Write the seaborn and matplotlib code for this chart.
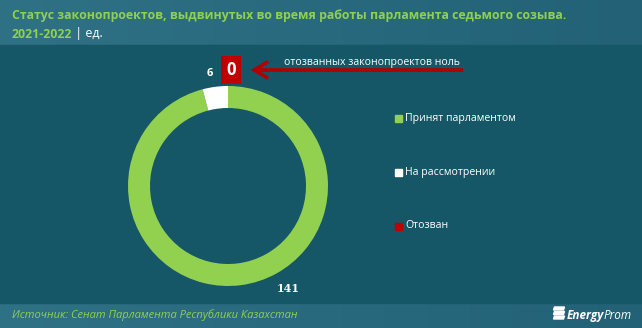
import numpy as np
import matplotlib
matplotlib.use("Agg")
import matplotlib.pyplot as plt
import seaborn as sns
from matplotlib.patches import Rectangle, FancyArrowPatch, Polygon
from matplotlib.colors import LinearSegmentedColormap

# ---- data ----
categories = ["Принят парламентом", "На рассмотрении", "Отозван"]
values = [141, 6, 0]
colors = ["#92d050", "#ffffff", "#c00000"]
title_line1 = "Статус законопроектов, выдвинутых во время работы парламента седьмого созыва."
title_year = "2021-2022"
title_unit = " | ед."
annotation = "отозванных законопроектов ноль"
source = "Источник: Сенат Парламента Республики Казахстан"

sns.set_theme(style="white")
plt.rcParams['font.family'] = ['Open Sans', 'DejaVu Sans']

W, H = 642, 328
fig = plt.figure(figsize=(W / 100, H / 100), dpi=100)
fig.patch.set_facecolor("#155766")

# background bands
bg = fig.add_axes([0, 0, 1, 1], zorder=-10)
bg.axis("off")
grad = np.linspace(0, 1, 256).reshape(1, -1)
cm = LinearSegmentedColormap.from_list("hdr", ["#2f7185", "#236276"])
bg.imshow(grad, extent=[0, W, 45, 0], cmap=cm, aspect="auto")
bg.add_patch(Rectangle((0, 45), W, 258, color="#155766"))
bg.imshow(grad, extent=[0, W, H, 303], cmap=cm, aspect="auto")
bg.set_xlim(0, W)
bg.set_ylim(H, 0)

# titles
fs_t = 8.9
bg.text(12, 16, title_line1, color="#8fd14f", fontsize=fs_t, fontweight="bold", va="center", ha="left")
t = bg.text(12, 34, title_year, color="#8fd14f", fontsize=fs_t, fontweight="bold", va="center", ha="left")
fig.canvas.draw()
bb = t.get_window_extent()
bg.text(bb.x1, H - 34, title_unit, color="white", fontsize=fs_t, va="center", ha="left",
        transform=None)
bg.text(12, 315, source, color="#8fd14f", fontsize=8, style="italic", va="center", ha="left")

# logo
t2 = bg.text(632, 319, "Prom", color="white", fontsize=8.5, style="italic", va="baseline", ha="right")
fig.canvas.draw()
b2 = t2.get_window_extent()
t3 = bg.text(b2.x0, H - 319, "Energy", color="white", fontsize=8.5, fontweight="bold", style="italic",
             va="baseline", ha="right", transform=None)
fig.canvas.draw()
b3 = t3.get_window_extent()
lx = b3.x0 - 14
for yy in [308.5, 313, 317.5]:
    bg.add_patch(Polygon([[lx + 2, yy - 1.5], [lx + 12, yy - 1.5], [lx + 11, yy + 1.5], [lx + 1, yy + 1.5]],
                         closed=True, color="white"))

# donut
cx, cy, R = 228, 186, 100
ax = fig.add_axes([(cx - R) / W, (H - cy - R) / H, 2 * R / W, 2 * R / H])
ax.set_facecolor("none")
wedges, _ = ax.pie(values, colors=colors, startangle=90, counterclock=False, radius=1,
                   wedgeprops=dict(width=0.22, edgecolor="none"))
ax.set_xlim(-1, 1)
ax.set_ylim(-1, 1)
ax.set_aspect("equal")
ax.axis("off")

ax.text(-0.18, 1.13, str(values[1]), color="white", fontsize=8, fontweight="bold",
        ha="center", va="center", clip_on=False)
ax.text(0.60, -1.03, str(values[0]), color="white", fontsize=8, fontweight="bold",
        ha="center", va="center", clip_on=False, family=["DejaVu Serif"])
ax.text(0.03, 1.16, str(values[2]), color="white", fontsize=12, fontweight="bold",
        ha="center", va="center", clip_on=False,
        bbox=dict(boxstyle="square,pad=0.3", fc="#c00000", ec="none"))
arr = FancyArrowPatch((2.38, 1.16), (0.20, 1.16), arrowstyle="->,head_length=5,head_width=3",
                      color="#b00000", lw=2.6, mutation_scale=2, clip_on=False,
                      joinstyle="miter", capstyle="butt")
ax.add_patch(arr)
ax.text(1.44, 1.24, annotation, color="white", fontsize=7.6, ha="center", va="center", clip_on=False)

# legend
leg_y = [118, 172, 226]
for c, lab, y in zip(colors, categories, leg_y):
    bg.add_patch(Rectangle((395, y - 3.5), 7, 7, color=c))
    bg.text(405, y, lab, color="white", fontsize=7.6, va="center", ha="left")

fig.savefig("out.png", dpi=100, facecolor=fig.get_facecolor())
